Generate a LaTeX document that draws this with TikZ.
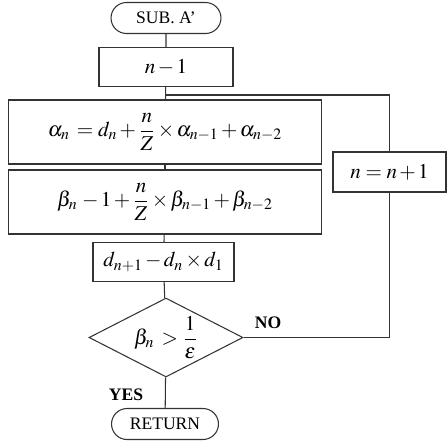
\documentclass[tikz,border=0pt]{standalone}
\usepackage{amsmath}
\usepackage{mathptmx}
\usepackage{fontspec}
\setmainfont{Liberation Serif}
\usetikzlibrary{shapes.geometric,shapes.misc}
\newcommand{\eqfont}{\large\medmuskip=2mu\thickmuskip=4mu}

\begin{document}
\begin{tikzpicture}[
    x=0.02cm, y=-0.02cm, line width=0.6pt,
    term/.style={draw=black!80, rounded rectangle, minimum width=2.34cm, minimum height=0.62cm, inner sep=2pt},
    box/.style={draw=black!80, minimum height=0.78cm, inner sep=2pt, font=\eqfont},
    big/.style={box, minimum width=6.28cm, minimum height=1.28cm},
    cond/.style={draw=black!80, diamond, aspect=2, minimum width=3.08cm, minimum height=1.58cm, inner sep=0pt, font=\eqfont},
    ln/.style={draw=black!80},
    lbl/.style={font=\bfseries},
]
  \useasboundingbox (0,0) rectangle (447,444);
  % main column
  \node[term] (sub)   at (166,18)  {SUB. A'};
  \node[box, minimum width=2.68cm] (init) at (166,67) {$n-1$};
  \node[big] (alpha)  at (165,132) {$\alpha_n\, = d_n+\dfrac{n}{Z}\times\alpha_{n-1}+\alpha_{n-2}$};
  \node[big] (beta)   at (165,202) {$\beta_n\, - 1+\dfrac{n}{Z}\times\beta_{n-1}+\beta_{n-2}$};
  \node[box, minimum width=2.82cm] (dnext) at (163.5,262) {$d_{n+1} - d_n\times d_1$};
  \node[cond] (test)  at (166,337.5) {$\beta_n\, > \dfrac{1}{\varepsilon}$};
  \node[term, minimum width=2.28cm] (ret) at (165,424) {RETURN};
  % loop
  \node[box, minimum width=2.26cm, minimum height=0.8cm] (inc) at (389.5,172) {$n = n+1$};
  \coordinate (j) at (init.south |- 0,95);
  \node[lbl] (no)  at (268,323) {NO};
  \node[lbl] (yes) at (126,395) {YES};
  \draw[ln] (sub) -- (init); \draw[ln] (init) -- (alpha);
  \draw[ln] (j) -| (inc.north);
  \draw[ln] (alpha) -- (beta); \draw[ln] (beta) -- (dnext);
  \draw[ln] (dnext) -- (test); \draw[ln] (test) -- (ret);
  \draw[ln] (test.east) -| (inc.south);
\end{tikzpicture}
\end{document}
